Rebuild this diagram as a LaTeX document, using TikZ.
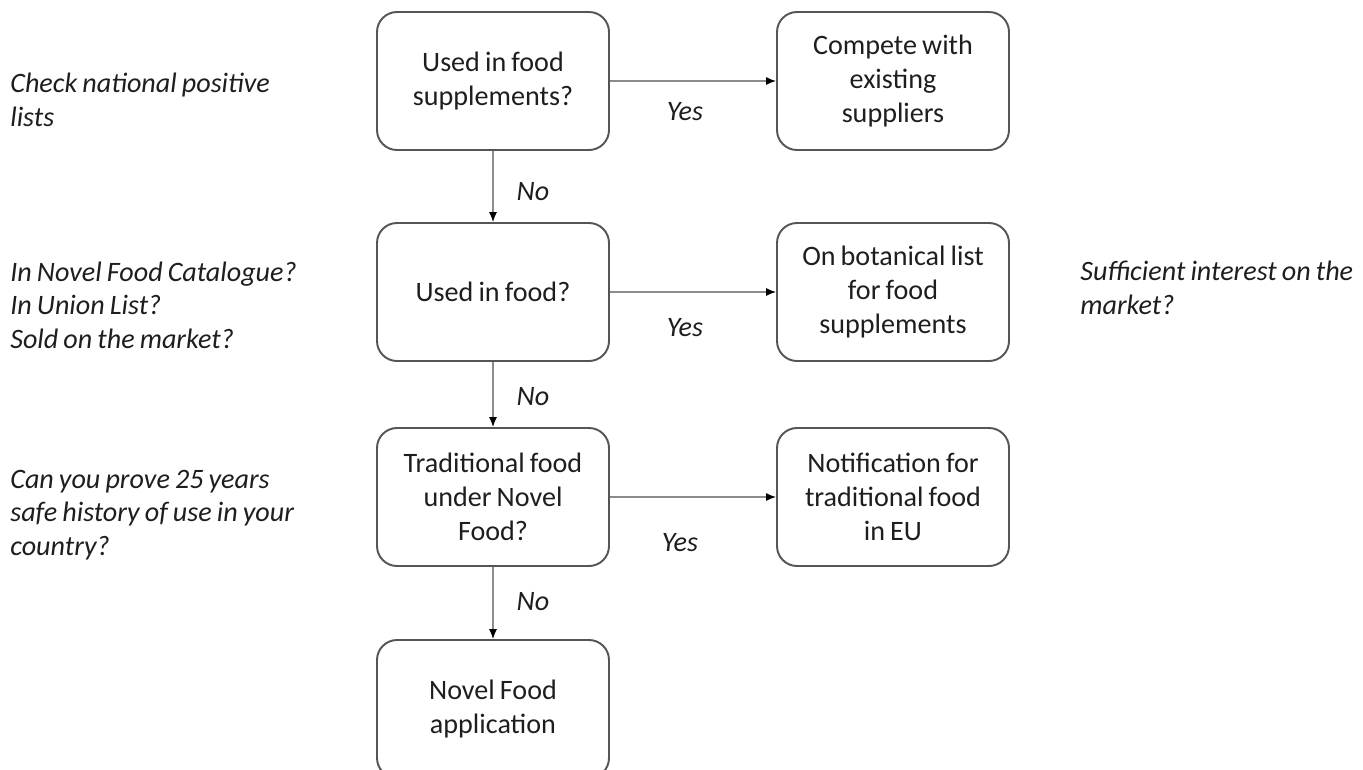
\documentclass[tikz,border=0pt]{standalone}
\usepackage{fontspec}
\setmainfont{Carlito}[WordSpace=0.8]
\usepackage{xcolor}
\usetikzlibrary{arrows.meta, positioning}

\definecolor{txt}{RGB}{30,30,30}
\definecolor{boxgray}{RGB}{85,85,85}
\definecolor{linegray}{RGB}{140,140,140}

\tikzset{
    stepbox/.style={draw=boxgray, line width=1.1pt, rounded corners=0.4cm,
        minimum width=4.64cm, minimum height=2.76cm,
        align=center, text=txt, font=\fontsize{16}{19.5}\selectfont},
    note/.style={anchor=west, align=left, inner sep=0pt, text=txt,
        font=\fontsize{16}{19}\selectfont\itshape},
    answer/.style={text=txt, font=\fontsize{16}{19}\selectfont\itshape},
    flow/.style={draw=linegray, line width=0.7pt, -{Latex[length=2mm, width=1.6mm, color=black]}},
}

\begin{document}
\begin{tikzpicture}
    \useasboundingbox (0, 0) rectangle (27.26, -15.38);
    % Fragen links, Ergebnisse rechts
    \node[stepbox] (q1) at (9.86, -1.62) {Used in food\\supplements?};
    \node[stepbox] (q2) at (9.86, -5.84) {Used in food?};
    \node[stepbox] (q3) at (9.86, -9.94) {Traditional food\\under Novel\\Food?};
    \node[stepbox] (app) at (9.86, -14.18) {Novel Food\\application};
    \node[stepbox] (r1) at (17.86, -1.62) {Compete with\\existing\\suppliers};
    \node[stepbox] (r2) at (17.86, -5.84) {On botanical list\\for food\\supplements};
    \node[stepbox] (r3) at (17.86, -9.94) {Notification for\\traditional food\\in EU};

    \draw[flow] (q1) -- (r1);
    \draw[flow] (q2) -- (r2);
    \draw[flow] (q3) -- (r3);
    \draw[flow] (q1) -- (q2);
    \draw[flow] (q2) -- (q3);
    \draw[flow] (q3) -- (app);

    \node[answer] (yes1) at (13.7, -2.24) {Yes};
    \node[answer] (yes2) at (13.7, -6.56) {Yes};
    \node[answer] (yes3) at (13.6, -10.86) {Yes};
    \node[answer] (no1) at (10.66, -3.84) {No};
    \node[answer] (no2) at (10.66, -7.94) {No};
    \node[answer] (no3) at (10.66, -12.04) {No};

    % Hinweise am Rand
    \node[note] (n1) at (0.2, -2.0) {Check national positive\\lists};
    \node[note] (n2) at (0.2, -6.1) {In Novel Food Catalogue?\\In Union List?\\Sold on the market?};
    \node[note] (n3) at (0.2, -10.3) {Can you prove 25 years\\safe history of use in your\\country?};
    \node[note] (n4) at (21.6, -5.76) {Sufficient interest on the\\market?};
\end{tikzpicture}
\end{document}
